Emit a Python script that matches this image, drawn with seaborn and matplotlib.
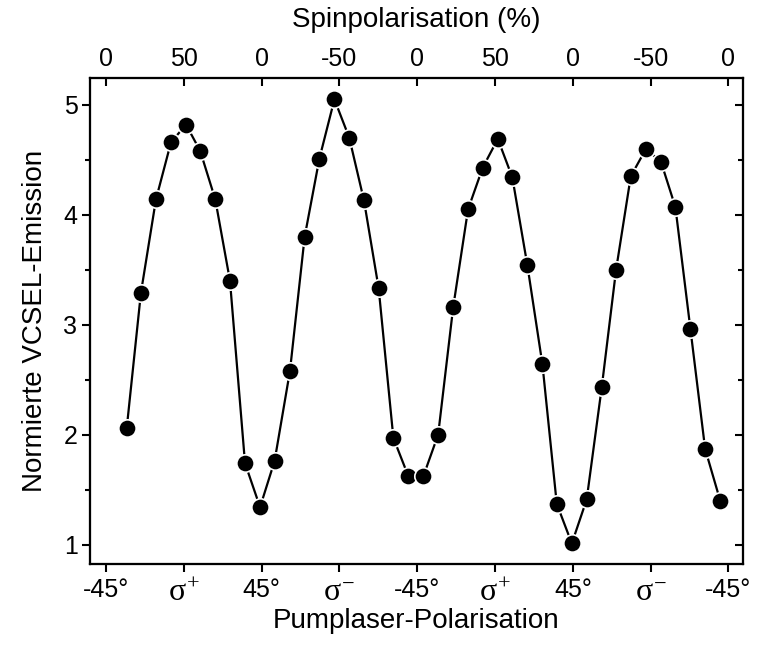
import numpy as np
import pandas as pd
import matplotlib
matplotlib.use("Agg")
import matplotlib.pyplot as plt
import seaborn as sns
from matplotlib.ticker import MultipleLocator

# Messpunkte (Winkel der Pumplaser-Polarisation in Grad, normierte Emission)
winkel = [-33.0, -24.8, -16.1, -7.4, 1.3, 9.5, 18.2, 26.7, 35.4, 44.1,
          52.5, 61.4, 69.9, 78.4, 87.1, 95.7, 104.2, 112.7, 121.2, 129.9,
          138.5, 147.1, 155.8, 164.4, 172.9, 181.6, 190.0, 198.7, 207.4, 215.7,
          224.4, 233.0, 241.7, 250.0, 258.5, 267.3, 276.0, 284.3, 293.0, 301.5,
          310.2]
emission = [2.06, 3.29, 4.14, 4.66, 4.82, 4.58, 4.14, 3.40, 1.74, 1.34,
            1.76, 2.58, 3.80, 4.51, 5.05, 4.70, 4.13, 3.33, 1.97, 1.62,
            1.62, 2.00, 3.16, 4.05, 4.43, 4.69, 4.34, 3.54, 2.64, 1.37,
            1.01, 1.41, 2.43, 3.50, 4.35, 4.60, 4.48, 4.07, 2.96, 1.87,
            1.40]

tick_pos = [-45, 0, 45, 90, 135, 180, 225, 270, 315]
unten_labels = ['-45°', r'$\sigma^{+}$', '45°', r'$\sigma^{-}$', '-45°',
                r'$\sigma^{+}$', '45°', r'$\sigma^{-}$', '-45°']
oben_labels = ['0', '50', '0', '-50', '0', '50', '0', '-50', '0']

df = pd.DataFrame({'winkel': winkel, 'emission': emission})

sns.set_style('ticks', {'axes.edgecolor': 'black', 'text.color': 'black',
                        'axes.labelcolor': 'black', 'xtick.color': 'black',
                        'ytick.color': 'black'})
plt.rcParams['font.family'] = ['Liberation Sans', 'DejaVu Sans']
plt.rcParams['mathtext.fontset'] = 'custom'
plt.rcParams['mathtext.rm'] = 'Liberation Serif'
plt.rcParams['mathtext.it'] = 'Liberation Serif'

fig = plt.figure(figsize=(7.66, 6.46), dpi=100)
ax = fig.add_axes([90 / 766, 1 - 564 / 646, (743 - 90) / 766, (564 - 77.7) / 646])

sns.lineplot(data=df, x='winkel', y='emission', ax=ax, color='black',
             linewidth=1.6, marker='o', markersize=12.5,
             markeredgecolor='white', markeredgewidth=1.2)

ax.set_xlim(-54.25, 323.4)
ax.set_ylim(0.823, 5.247)

ax.set_xticks(tick_pos)
ax.set_xticklabels(unten_labels)
ax.yaxis.set_major_locator(MultipleLocator(1))
ax.yaxis.set_minor_locator(MultipleLocator(0.5))

for s in ax.spines.values():
    s.set_linewidth(1.5)
    s.set_visible(True)

ax.tick_params(axis='x', which='major', direction='out', length=6, width=1.5,
               labelsize=18, pad=4)
ax.tick_params(axis='y', which='major', direction='out', length=6, width=1.5,
               labelsize=18, pad=3)
ax.tick_params(axis='y', which='minor', direction='out', length=3.5, width=1.5)
# sigma-Labels etwas groesser, damit sie wie im Original wirken
for lab in ax.get_xticklabels():
    if 'sigma' in lab.get_text():
        lab.set_fontsize(23)

ax.set_xlabel('Pumplaser-Polarisation', fontsize=20, labelpad=0)
ax.set_ylabel('Normierte VCSEL-Emission', fontsize=20, labelpad=11)

# rechte Achse: Ticks nach innen
ax_r = ax.twinx()
ax_r.set_ylim(ax.get_ylim())
ax_r.yaxis.set_major_locator(MultipleLocator(1))
ax_r.yaxis.set_minor_locator(MultipleLocator(0.5))
ax_r.tick_params(axis='y', which='major', direction='in', length=6, width=1.5,
                 labelright=False)
ax_r.tick_params(axis='y', which='minor', direction='in', length=3.5, width=1.5)

# obere Achse: Spinpolarisation
ax_t = ax.twiny()
ax_t.set_xlim(ax.get_xlim())
ax_t.set_xticks(tick_pos)
ax_t.set_xticklabels(oben_labels)
ax_t.tick_params(axis='x', direction='in', length=6, width=1.5, labelsize=18, pad=5)
ax_t.set_xlabel('Spinpolarisation (%)', fontsize=20, labelpad=14)
for a in (ax_r, ax_t):
    for s in a.spines.values():
        s.set_linewidth(1.5)

fig.savefig('out.png', dpi=100)
